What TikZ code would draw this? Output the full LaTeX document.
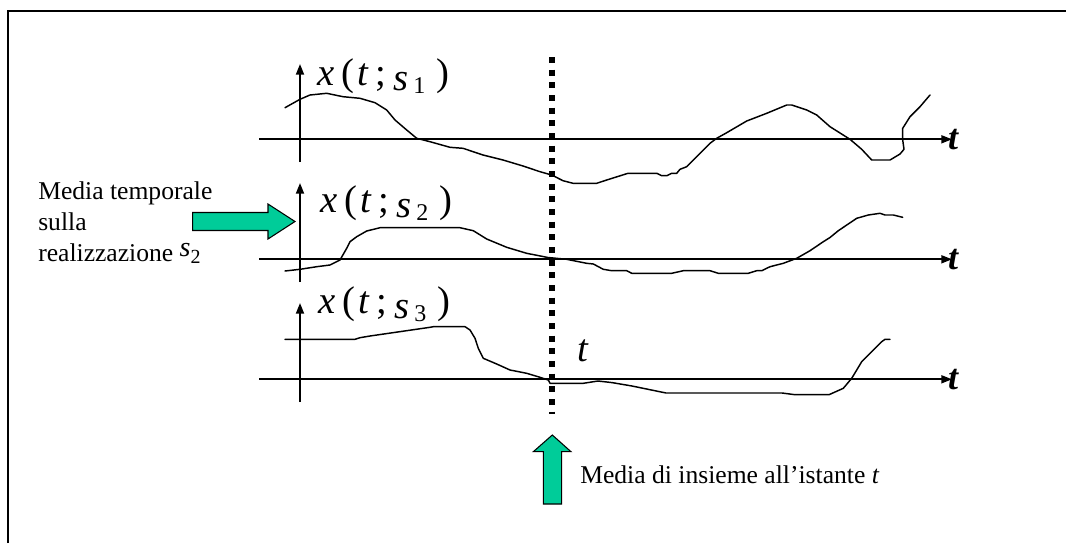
\documentclass[tikz,border=0pt]{standalone}
\usepackage{fontspec}
\setmainfont{Liberation Serif}
\usetikzlibrary{arrows.meta}
\definecolor{arrowgreen}{RGB}{0,204,153}
\newcommand{\labfont}{\fontsize{29}{29}\selectfont}
\newcommand{\txtfont}{\fontsize{19.2}{23}\selectfont}
\newcommand{\mylab}[1]{\textit{x}\hspace{5pt}(\hspace{2.5pt}\textit{t}\hspace{5pt};\hspace{5.5pt}\raisebox{-4pt}{\textit{s}}\hspace{3.5pt}\raisebox{-6pt}{\fontsize{18}{18}\selectfont #1}\hspace{8.5pt})}
\begin{document}
\begin{tikzpicture}[x=0.75pt,y=-0.75pt,
  axisline/.style={line width=1.3pt,-{Triangle[length=8pt,width=6pt]}},
  signal/.style={line width=1.1pt,line join=round,line cap=round},
  blockarrow/.style={fill=arrowgreen,draw=black,line width=0.8pt,line join=miter},
  dashline/.style={line width=4.5pt,dash pattern=on 4.5pt off 5pt},
  frameline/.style={line width=1.3pt},
  lbl/.style={anchor=base west,inner sep=0pt,font=\labfont},
  txt/.style={anchor=base west,inner sep=0pt,font=\txtfont},
  tend/.style={inner sep=0pt,font=\fontsize{27}{27}\selectfont\bfseries\itshape}]
\useasboundingbox (0,0) rectangle (1066,543);
% frame
\draw[frameline] (8,543) -- (8,11) -- (1066,11);
% dashed instant line
\coordinate (dtop) at (551.5,57);
\coordinate (dbot) at (551.5,414);
\draw[dashline] (dtop) -- (dbot);
% axes panel 1
\coordinate (v1b) at (300,162); \coordinate (v1t) at (300,64);
\coordinate (h1a) at (259,139.3); \coordinate (h1b) at (952,139.3);
\draw[axisline] (v1b) -- (v1t);
\draw[axisline] (h1a) -- (h1b);
\node[tend] (t1) at (953,140) {t};
% axes panel 2
\coordinate (v2b) at (300,282); \coordinate (v2t) at (300,183);
\coordinate (h2a) at (259,259.3); \coordinate (h2b) at (952,259.3);
\draw[axisline] (v2b) -- (v2t);
\draw[axisline] (h2a) -- (h2b);
\node[tend] (t2) at (953,260) {t};
% axes panel 3
\coordinate (v3b) at (300,402); \coordinate (v3t) at (300,303);
\coordinate (h3a) at (259,379.3); \coordinate (h3b) at (952,379.3);
\draw[axisline] (v3b) -- (v3t);
\draw[axisline] (h3a) -- (h3b);
\node[tend] (t3) at (953,380) {t};
% signals
\draw[signal] (285,107.7) -- (300,99.3) -- (310,95) -- (326.7,93.3) -- (343,96.7) -- (360,98.3) -- (375,102.7) -- (386.7,110) -- (395,120) -- (406.7,130) -- (416.7,138.3) -- (430,141.7) -- (450,147.3) -- (463,148.3) -- (483,155) -- (503,160) -- (523,166) -- (540,171.7) -- (551.7,175) -- (563,180.7) -- (573,183.3) -- (596.7,183.3) -- (606.7,180) -- (628,173.3) -- (656.7,173.3) -- (661.7,175.7) -- (666.7,175.7) -- (671.7,173.3) -- (676.7,173.3) -- (680,169.3) -- (686.7,166.7) -- (696.7,156.7) -- (710,143.3) -- (716.7,138.3) -- (726.7,132.7) -- (746.7,121) -- (766.7,113.3) -- (786.7,105) -- (791.7,105) -- (806.7,110) -- (816.7,115) -- (830,126.7) -- (850,139.3) -- (861.7,149.3) -- (871.7,160) -- (890,160) -- (900,154) -- (904,149.3) -- (902.7,140) -- (902.7,128.3) -- (910,116.7) -- (920,106.7) -- (930,95);
\draw[signal] (285,271) -- (300,269.3) -- (316.7,266.7) -- (330,265) -- (340,260) -- (346.7,248.3) -- (350,241.7) -- (356.7,236.7) -- (366.7,231) -- (380,227.7) -- (460,227.7) -- (473.3,230.7) -- (486.7,239) -- (506.7,247.3) -- (526.7,253.3) -- (548,257.5) -- (566.7,259.3) -- (586.7,263.3) -- (593.3,264) -- (603.3,269.3) -- (611.7,270.7) -- (626.7,270.7) -- (631.7,273.3) -- (671.7,273.3) -- (683.3,270.7) -- (710,270.7) -- (718.3,273.3) -- (748.3,273.3) -- (756.7,270.7) -- (761.7,270.7) -- (770,266.7) -- (783.3,263.3) -- (796.7,258.3) -- (810,250.7) -- (823.3,241.7) -- (830,237.5) -- (838.3,230.7) -- (856.7,218.3) -- (868.3,215) -- (880,213.3) -- (885,215) -- (893.3,215) -- (902.7,217.3);
\draw[signal] (285,339.3) -- (355,339.3) -- (360,337.7) -- (370,336) -- (430,327.3) -- (433.3,326.7) -- (465,326.7) -- (470,330) -- (475,338.3) -- (478.3,348.3) -- (483.3,358.3) -- (496.7,364) -- (510,370) -- (526.7,373.3) -- (540,377.3) -- (548.3,380) -- (550,383.3) -- (583.3,383.3) -- (598,381) -- (612,382.6) -- (632,386) -- (666,393) -- (782,393) -- (795,394.7) -- (829,394.7) -- (843.3,388.3) -- (851.7,378.3) -- (861.7,361.7) -- (873.3,350) -- (881.7,341.7) -- (885,339.3) -- (890,339.3);
% labels
\node[lbl] (lab1) at (317,85) {\mylab{1}};
\node[lbl] (lab2) at (320,212) {\mylab{2}};
\node[lbl] (lab3) at (318,313) {\mylab{3}};
\node[lbl] (tmark) at (577,361.7) {\textit{t}};
% left text and arrow
\node[txt] (lt1) at (38,199) {Media temporale};
\node[txt] (lt2) at (38,230) {sulla};
\node[txt] (lt3) at (38,261) {realizzazione \raisebox{3.75pt}{\fontsize{21}{21}\selectfont\textit{s}}\raisebox{-2.2pt}{\fontsize{15}{15}\selectfont 2}};
\draw[blockarrow] (192.7,212.5) -- (268,212.5) -- (268,204) -- (295,221.5) -- (268,239) -- (268,230.5) -- (192.7,230.5) -- cycle;
% bottom arrow and text
\draw[blockarrow] (543.3,504) -- (543.3,451.7) -- (533.3,451.7) -- (552.3,435) -- (571,451.7) -- (561.7,451.7) -- (561.7,504) -- cycle;
\node[txt] (bt) at (580,483) {Media di insieme all’istante \textit{t}};
\end{tikzpicture}
\end{document}
